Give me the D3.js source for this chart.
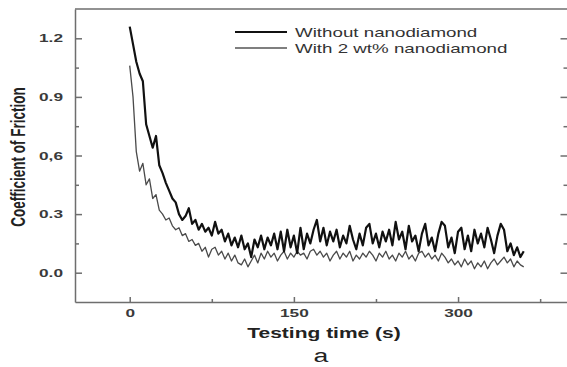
<!DOCTYPE html>
<html>
<head>
<meta charset="utf-8">
<script src="https://cdn.jsdelivr.net/npm/d3@7"></script>
<style>
    body { margin: 0; background: #fff; }
    svg { display: block; }
    .axis path, .axis line { stroke: #6e6e6e; stroke-width: 1.5; }
    .axis text { fill: #3a3a3a; font-family: "Liberation Sans", Arial, sans-serif; font-weight: bold; font-size: 11.5px; }
</style>
</head>
<body>
<div id="chart"></div>
<script>
// sampling step of both runs, in seconds
const timeStep = 3;

// Without nanodiamond (heavy line)
const withoutND = [
    1.26, 1.17, 1.08, 1.02, 0.98, 0.76, 0.70, 0.64, 0.70, 0.55,
    0.51, 0.46, 0.42, 0.38, 0.36, 0.30, 0.27, 0.29, 0.33, 0.25,
    0.27, 0.22, 0.25, 0.21, 0.23, 0.19, 0.26, 0.20, 0.22, 0.16,
    0.20, 0.14, 0.18, 0.13, 0.19, 0.12, 0.15, 0.08, 0.17, 0.13,
    0.19, 0.12, 0.18, 0.14, 0.20, 0.12, 0.21, 0.11, 0.22, 0.13,
    0.19, 0.10, 0.23, 0.12, 0.20, 0.15, 0.22, 0.27, 0.16, 0.23,
    0.14, 0.21, 0.16, 0.22, 0.13, 0.19, 0.15, 0.24, 0.17, 0.12,
    0.20, 0.14, 0.23, 0.25, 0.15, 0.20, 0.13, 0.21, 0.16, 0.22,
    0.14, 0.26, 0.17, 0.21, 0.12, 0.24, 0.16, 0.19, 0.11, 0.20,
    0.25, 0.14, 0.18, 0.11, 0.20, 0.26, 0.24, 0.13, 0.18, 0.10,
    0.21, 0.23, 0.12, 0.19, 0.11, 0.22, 0.15, 0.20, 0.13, 0.23,
    0.17, 0.10, 0.19, 0.25, 0.22, 0.11, 0.15, 0.09, 0.13, 0.08,
    0.11
];

// With 2 wt% nanodiamond (thin line)
const with2ND = [
    1.06, 0.90, 0.62, 0.52, 0.56, 0.45, 0.48, 0.38, 0.40, 0.32,
    0.30, 0.27, 0.28, 0.24, 0.22, 0.23, 0.19, 0.20, 0.16, 0.17,
    0.14, 0.15, 0.11, 0.13, 0.08, 0.12, 0.13, 0.09, 0.11, 0.07,
    0.10, 0.06, 0.09, 0.05, 0.04, 0.07, 0.03, 0.06, 0.09, 0.05,
    0.10, 0.07, 0.11, 0.08, 0.10, 0.06, 0.09, 0.11, 0.07, 0.10,
    0.08, 0.11, 0.09, 0.10, 0.07, 0.11, 0.12, 0.09, 0.11, 0.08,
    0.10, 0.06, 0.09, 0.11, 0.07, 0.10, 0.08, 0.11, 0.06, 0.09,
    0.07, 0.10, 0.08, 0.11, 0.09, 0.06, 0.10, 0.08, 0.11, 0.07,
    0.09, 0.06, 0.10, 0.08, 0.11, 0.07, 0.09, 0.06, 0.10, 0.11,
    0.08, 0.10, 0.07, 0.09, 0.06, 0.10, 0.08, 0.05, 0.07, 0.04,
    0.06, 0.03, 0.07, 0.04, 0.06, 0.02, 0.05, 0.03, 0.06, 0.02,
    0.05, 0.07, 0.04, 0.06, 0.08, 0.05, 0.07, 0.03, 0.06, 0.04,
    0.03
];

const seriesNames = ['Without nanodiamond', 'With 2 wt% nanodiamond'];

const xMajor = [0, 150, 300];
const xMinor = [75, 225, 375];
const yMajor = [0, 0.3, 0.6, 0.9, 1.2];
const yMinor = [0.15, 0.45, 0.75, 1.05];
const yTickLabels = ['0.0', '0.3', '0,6', '0.9', '1.2'];

const width = 567, height = 367;
const stretch = 1.5;   // the scanned figure is widened horizontally
const font = '"Liberation Sans", Arial, sans-serif';

const svg = d3.select('#chart')
    .append('svg')
    .attr('width', width)
    .attr('height', height);

const xScale = d3.scaleLinear().domain([-50, 400]).range([75, 567.5]);
const yScale = d3.scaleLinear().domain([-0.15, 1.35]).range([302, 9]);

// left axis
const yAxis = d3.axisLeft(yScale)
    .tickValues(yMajor)
    .tickSizeInner(-7)
    .tickSizeOuter(0)
    .tickFormat((d, i) => yTickLabels[i]);
const yAxisG = svg.append('g')
    .attr('class', 'axis')
    .attr('transform', 'translate(75,0)')
    .call(yAxis);
yAxisG.selectAll('text')
    .attr('x', 0)
    .attr('transform', `translate(-12,0) scale(${stretch},1)`);
svg.append('g')
    .attr('class', 'axis')
    .attr('transform', 'translate(75,0)')
    .call(d3.axisLeft(yScale).tickValues(yMinor).tickSizeInner(-4).tickSizeOuter(0).tickFormat(''))
    .select('.domain').remove();

// right axis, ticks only inward
svg.append('g')
    .attr('class', 'axis')
    .attr('transform', 'translate(567.5,0)')
    .call(d3.axisRight(yScale).tickValues(yMajor).tickSizeInner(-7).tickSizeOuter(0).tickFormat(''));
svg.append('g')
    .attr('class', 'axis')
    .attr('transform', 'translate(567.5,0)')
    .call(d3.axisRight(yScale).tickValues(yMinor).tickSizeInner(-4).tickSizeOuter(0).tickFormat(''))
    .select('.domain').remove();

// bottom axis
const xAxisG = svg.append('g')
    .attr('class', 'axis')
    .attr('transform', 'translate(0,302)')
    .call(d3.axisBottom(xScale).tickValues(xMajor).tickSizeInner(-5).tickSizeOuter(0).tickFormat(d3.format('d')));
xAxisG.selectAll('text')
    .attr('y', 0)
    .attr('dy', 0)
    .attr('transform', `translate(0,15) scale(${stretch},1)`);
svg.append('g')
    .attr('class', 'axis')
    .attr('transform', 'translate(0,302)')
    .call(d3.axisBottom(xScale).tickValues(xMinor).tickSizeInner(-3).tickSizeOuter(0).tickFormat(''))
    .select('.domain').remove();

// top border
svg.append('line')
    .attr('x1', 75).attr('x2', 567.5)
    .attr('y1', 9).attr('y2', 9)
    .attr('stroke', '#6e6e6e')
    .attr('stroke-width', 1.5);

// curves
const line = d3.line()
    .x((d, i) => xScale(i * timeStep))
    .y(d => yScale(d));

svg.append('path')
    .datum(with2ND)
    .attr('fill', 'none')
    .attr('stroke', '#4a4a4a')
    .attr('stroke-width', 1.3)
    .attr('stroke-linejoin', 'round')
    .attr('d', line);

svg.append('path')
    .datum(withoutND)
    .attr('fill', 'none')
    .attr('stroke', '#111')
    .attr('stroke-width', 2.2)
    .attr('stroke-linejoin', 'round')
    .attr('d', line);

// legend
const legendStyles = [
    {color: '#111', w: 2},
    {color: '#555', w: 1.3}
];
const legend = svg.append('g');
seriesNames.forEach((name, i) => {
    const y = 32 + i * 16;
    legend.append('line')
        .attr('x1', 235).attr('x2', 287)
        .attr('y1', y).attr('y2', y)
        .attr('stroke', legendStyles[i].color)
        .attr('stroke-width', legendStyles[i].w);
    legend.append('text')
        .attr('transform', `translate(295,${y + 5}) scale(${stretch},1)`)
        .attr('font-family', font)
        .attr('font-size', 12.5)
        .attr('fill', '#333')
        .text(name);
});

// axis titles
svg.append('text')
    .attr('transform', `translate(324,338) scale(${stretch},1)`)
    .attr('text-anchor', 'middle')
    .attr('font-family', font)
    .attr('font-weight', 'bold')
    .attr('font-size', 14)
    .attr('fill', '#222')
    .text('Testing time (s)');

svg.append('text')
    .attr('transform', `translate(18,157) scale(${stretch},1) rotate(-90)`)
    .attr('text-anchor', 'middle')
    .attr('dy', '0.35em')
    .attr('font-family', font)
    .attr('font-weight', 'bold')
    .attr('font-size', 13.5)
    .attr('fill', '#222')
    .text('Coefficient of Friction');

// panel label
svg.append('text')
    .attr('transform', `translate(321,362) scale(${stretch},1)`)
    .attr('text-anchor', 'middle')
    .attr('font-family', '"Liberation Mono", "DejaVu Sans Mono", monospace')
    .attr('font-size', 18)
    .attr('fill', '#222')
    .text('a');
</script>
</body>
</html>
